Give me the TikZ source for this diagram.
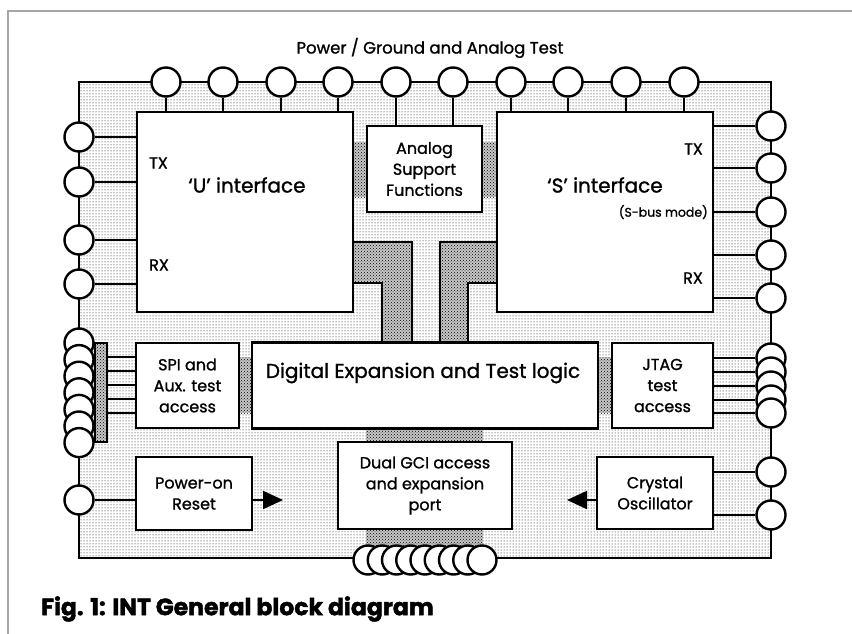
\documentclass[tikz,border=0pt]{standalone}
\usepackage{fontspec}
\setmainfont{Poppins}[UprightFeatures={FakeBold=1.2}, BoldFeatures={FakeBold=1.8}]
\usepackage{tikz}
\usetikzlibrary{arrows.meta,patterns,positioning}
\tikzstyle{chip} = [draw, line width=2.8pt, pattern=dots, pattern color=black, inner sep=0pt]
\tikzstyle{block} = [draw, line width=2.8pt, fill=white, inner sep=0pt, align=center, font=\fontsize{16}{21}\selectfont]
\tikzstyle{chippad} = [circle, draw, line width=2.4pt, fill=white, minimum size=29pt, inner sep=0pt]
\tikzstyle{hatch} = [preaction={fill=black!22}, pattern=crosshatch dots, pattern color=black]
\tikzstyle{channel} = [hatch, draw, line width=2.8pt]
\tikzstyle{wire} = [draw, line width=2.2pt]
\tikzstyle{signal} = [wire, -{Triangle[length=20pt,width=18pt]}]
\tikzstyle{pinlabel} = [font=\fontsize{16}{18}\selectfont, inner sep=0pt]
\tikzstyle{biglabel} = [font=\fontsize{20}{22}\selectfont, inner sep=0pt]

\begin{document}
\begin{tikzpicture}[x=1pt, y=-1pt]
  \useasboundingbox (0,0) rectangle (852,634);
  \draw[gray!70, line width=1.5pt] (8,634) -- (8,11) -- (852,11);

  % Chip body
  \node[chip, minimum width=692pt, minimum height=476pt] (chip) at (425,320) {};

  % Hatched links and channels
  \path[hatch] (353,142) rectangle (367,197);
  \path[hatch] (482,142) rectangle (497,197);
  \path[hatch] (239,357) rectangle (252,413);
  \path[hatch] (598,357) rectangle (612,413);
  \path[hatch] (366,428) rectangle (483,442);
  \path[hatch] (366,529) rectangle (483,558);
  \draw[channel] (353,242) -- (412,242) -- (412,342) -- (382,342) -- (382,283) -- (353,283) -- cycle;
  \draw[channel] (440,242) -- (497,242) -- (497,283) -- (468,283) -- (468,342) -- (440,342) -- cycle;

  % Blocks
  \node[block, minimum width=216pt, minimum height=200pt] (uif) at (245,212) {};
  \node[block, minimum width=216pt, minimum height=200pt] (sif) at (605,212) {};
  \node[block, minimum width=115pt, minimum height=86pt] (ana) at (424.5,169) {Analog\\Support\\Functions};
  \node[block, minimum width=346pt, minimum height=86pt] (dexp) at (425,385.5) {};
  \node[block, minimum width=103pt, minimum height=85pt] (spi) at (187.5,385.5) {SPI and\\Aux. test\\access};
  \node[block, minimum width=101pt, minimum height=85pt] (jtag) at (662.5,385.5) {JTAG\\test\\access};
  \node[block, minimum width=116pt, minimum height=73pt] (por) at (194,493.5) {Power-on\\Reset};
  \node[block, minimum width=174pt, minimum height=87pt] (gci) at (425,485.5) {Dual GCI access\\and expansion\\port};
  \node[block, minimum width=116pt, minimum height=72pt] (xtal) at (655,493) {Crystal\\Oscillator};
  \node[draw, line width=2.2pt, hatch, minimum width=12pt, minimum height=99pt, inner sep=0pt] (spibar) at (101,392.5) {};

  % Texts in blocks
  \node[biglabel] (uname) at (247,185) {`U' interface};
  \node[biglabel] (sname) at (605,185) {`S' interface};
  \node[biglabel] (dname) at (423,373) {Digital Expansion and Test logic};
  \node[pinlabel, anchor=west] (utx) at (149,163) {TX};
  \node[pinlabel, anchor=west] (urx) at (149,265) {RX};
  \node[pinlabel, anchor=east] (stx) at (703,149) {TX};
  \node[pinlabel, anchor=east] (srx) at (703,278) {RX};
  \node[font=\fontsize{12.5}{14}\selectfont, inner sep=0pt, anchor=east] (smode) at (708,212) {(S-bus mode)};

  % Top pins
  \foreach \x [count=\i] in {166,223,281,338,396,453,511,568,626,684}
    \node[chippad] (ptop\i) at (\x,82) {};
  \foreach \i in {1,...,4}
    \draw[wire] (ptop\i.south) -- (ptop\i.south |- uif.north);
  \foreach \i in {5,6}
    \draw[wire] (ptop\i.south) -- (ptop\i.south |- ana.north);
  \foreach \i in {7,...,10}
    \draw[wire] (ptop\i.south) -- (ptop\i.south |- sif.north);

  % Side pins of the interfaces
  \foreach \y [count=\i] in {137,182,240,284} {
    \node[chippad] (pu\i) at (79,\y) {};
    \draw[wire] (pu\i.east) -- (pu\i.east -| uif.west);
  }
  \foreach \y [count=\i] in {126,168,212,255,298} {
    \node[chippad] (ps\i) at (771,\y) {};
    \draw[wire] (ps\i.west) -- (ps\i.west -| sif.east);
  }

  % SPI pin cluster
  \foreach \i in {0,...,6}
    \node[chippad] (pspi\i) at (79,343+\i*16.6) {};
  \foreach \y in {357,371,385,399,413} {
    \coordinate (busy) at (0,\y);
    \draw[wire] (spibar.east |- busy) -- (spi.west |- busy);
  }

  % JTAG pin cluster
  \foreach \y [count=\i] in {358,372,386,400,413} {
    \node[chippad] (pj\i) at (771,\y) {};
    \draw[wire] (pj\i.west -| jtag.east) -- (pj\i.west);
  }

  % GCI pin cluster
  \foreach \i in {0,...,8}
    \node[chippad] (pg\i) at (368+\i*14.25,560) {};

  % Reset and clock
  \node[chippad] (pres) at (79,500) {};
  \draw[wire] (pres.east) -- (pres.east -| por.west);
  \coordinate (restip) at (283,500);
  \draw[signal] (por.east |- restip) -- (restip);

  \node[chippad] (px1) at (771,472) {};
  \node[chippad] (px2) at (771,515) {};
  \draw[wire] (px1.west) -- (px1.west -| xtal.east);
  \draw[wire] (px2.west) -- (px2.west -| xtal.east);
  \coordinate (clktip) at (567,500);
  \draw[signal] (xtal.west |- clktip) -- (clktip);

  % Titles
  \node[font=\fontsize{16.5}{18}\selectfont] (ptitle) at (430,48) {Power / Ground and Analog Test};
  \node[anchor=west, font=\bfseries\fontsize{23.5}{26}\selectfont, inner sep=0pt] (caption) at (41,609) {Fig. 1: INT General block diagram};
\end{tikzpicture}
\end{document}
